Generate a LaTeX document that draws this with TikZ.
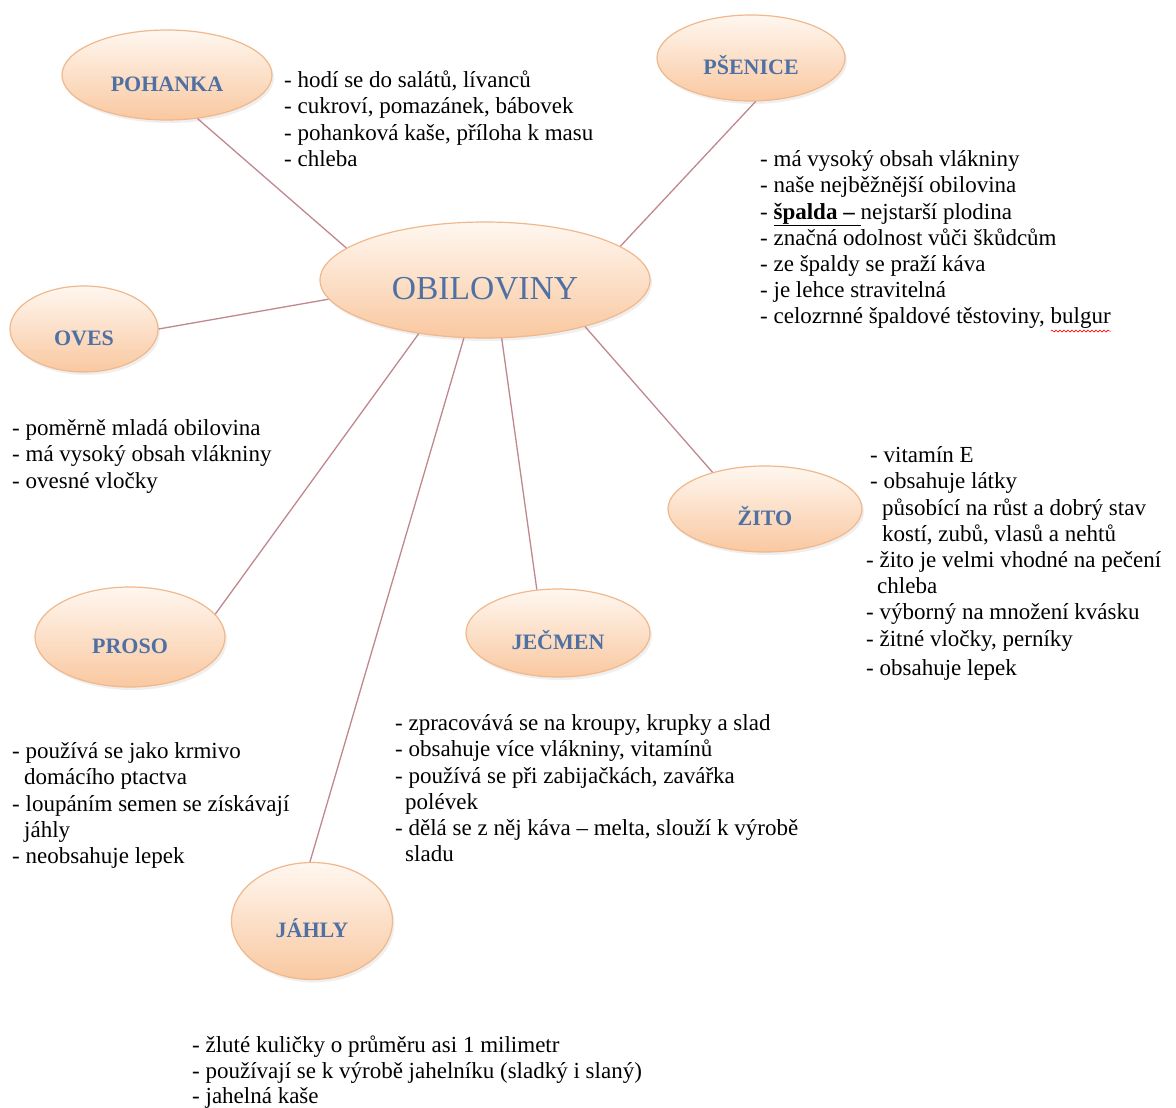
\documentclass[tikz,border=0pt]{standalone}
\usepackage{fontspec}
\setmainfont{Liberation Serif}
\usetikzlibrary{shapes.geometric,shadows,decorations.pathmorphing,calc}
\definecolor{conn}{RGB}{192,136,142}
\definecolor{ebord}{RGB}{240,184,140}
\definecolor{etop}{RGB}{255,247,240}
\definecolor{ebot}{RGB}{249,200,160}
\definecolor{etext}{RGB}{79,112,162}
\newcommand\firstl{\rule{0pt}{18pt}}
\begin{document}
\begin{tikzpicture}[x=1pt,y=-1pt,
  bubble/.style={ellipse, draw=ebord, line width=1.2pt, top color=etop, bottom color=ebot,
    inner sep=0pt, text=etext, font=\fontsize{22}{22}\selectfont\bfseries,
    text height=33pt, text depth=0pt,
    drop shadow={opacity=0.12, shadow xshift=2pt, shadow yshift=-3pt}},
  bigbubble/.style={bubble, font=\fontsize{33.5}{33.5}\selectfont, text height=38pt},
  link/.style={draw=conn, line width=1.3pt},
  lst/.style={anchor=north west, inner sep=0pt, align=left, font=\fontsize{23}{26.2}\selectfont},
  spell/.style={draw=red, line width=0.6pt, decorate, decoration={snake, segment length=4pt, amplitude=1pt}}
]
\fill[white] (0,0) rectangle (1176,1108);
\useasboundingbox (0,0) rectangle (1176,1108);

% bubbles
\node[bigbubble, minimum width=330pt, minimum height=116pt] (obil) at (485,280) {OBILOVINY};
\node[bubble, minimum width=210pt, minimum height=90pt] (pohanka) at (167,75) {POHANKA};
\node[bubble, minimum width=188pt, minimum height=86pt] (psenice) at (751,58) {PŠENICE};
\node[bubble, minimum width=148pt, minimum height=86pt] (oves) at (84,329) {OVES};
\node[bubble, minimum width=194pt, minimum height=86pt] (zito) at (765,509) {ŽITO};
\node[bubble, minimum width=190pt, minimum height=100pt] (proso) at (130,637) {PROSO};
\node[bubble, minimum width=184pt, minimum height=88pt] (jecmen) at (558,633) {JEČMEN};
\node[bubble, minimum width=161pt, minimum height=117pt] (jahly) at (312,921) {JÁHLY};

% connectors
\draw[link] (pohanka.-55) -- (obil.167);
\draw[link] (psenice.-84) -- (obil.14);
\draw[link] (oves.0) -- (obil.-173.5);
\draw[link] (zito.145) -- (obil.-25.5);
\draw[link] (proso.15) -- (obil.-141.5);
\draw[link] (jecmen.116.6) -- (obil.-74);
\draw[link] (jahly.92) -- (obil.-110);

% text blocks
\node[lst] (tpohanka) at (284,69.5) {\firstl- hodí se do salátů, lívanců\\
- cukroví, pomazánek, bábovek\\
- pohanková kaše, příloha k masu\\
- chleba};

\node[lst] (tpsenice) at (760,148.5) {\firstl- má vysoký obsah vlákniny\\
- naše nejběžnější obilovina\\
- \underline{\textbf{špalda –}\ }nejstarší plodina\\
- značná odolnost vůči škůdcům\\
- ze špaldy se praží káva\\
- je lehce stravitelná\\
- celozrnné špaldové těstoviny, bulgur};
\draw[spell] ([xshift=-60pt,yshift=-2pt]tpsenice.south east) -- ([yshift=-2pt]tpsenice.south east);

\node[lst] (toves) at (12,417.5) {\firstl- poměrně mladá obilovina\\
- má vysoký obsah vlákniny\\
- ovesné vločky};

\node[lst] (tzito) at (866,444.5) {\firstl\hspace*{4pt}- vitamín E\\
\hspace*{4pt}- obsahuje látky\\
\hspace*{16pt}působící na růst a dobrý stav\\
\hspace*{16pt}kostí, zubů, vlasů a nehtů\\
- žito je velmi vhodné na pečení\\
\hspace*{11pt}chleba\\
- výborný na množení kvásku\\
- žitné vločky, perníky\\[3pt]
- obsahuje lepek};

\node[lst] (tproso) at (12,740.5) {\firstl- používá se jako krmivo\\
\hspace*{12pt}domácího ptactva\\
- loupáním semen se získávají\\
\hspace*{12pt}jáhly\\
- neobsahuje lepek};

\node[lst] (tjecmen) at (395,712.5) {\firstl- zpracovává se na kroupy, krupky a slad\\
- obsahuje více vlákniny, vitamínů\\
- používá se při zabijačkách, zavářka\\
\hspace*{10pt}polévek\\
- dělá se z něj káva – melta, slouží k výrobě\\
\hspace*{10pt}sladu};

\node[lst, font=\fontsize{23}{25.4}\selectfont] (tjahly) at (192,1034.5) {\firstl- žluté kuličky o průměru asi 1 milimetr\\
- používají se k výrobě jahelníku (sladký i slaný)\\
- jahelná kaše};
\end{tikzpicture}
\end{document}
